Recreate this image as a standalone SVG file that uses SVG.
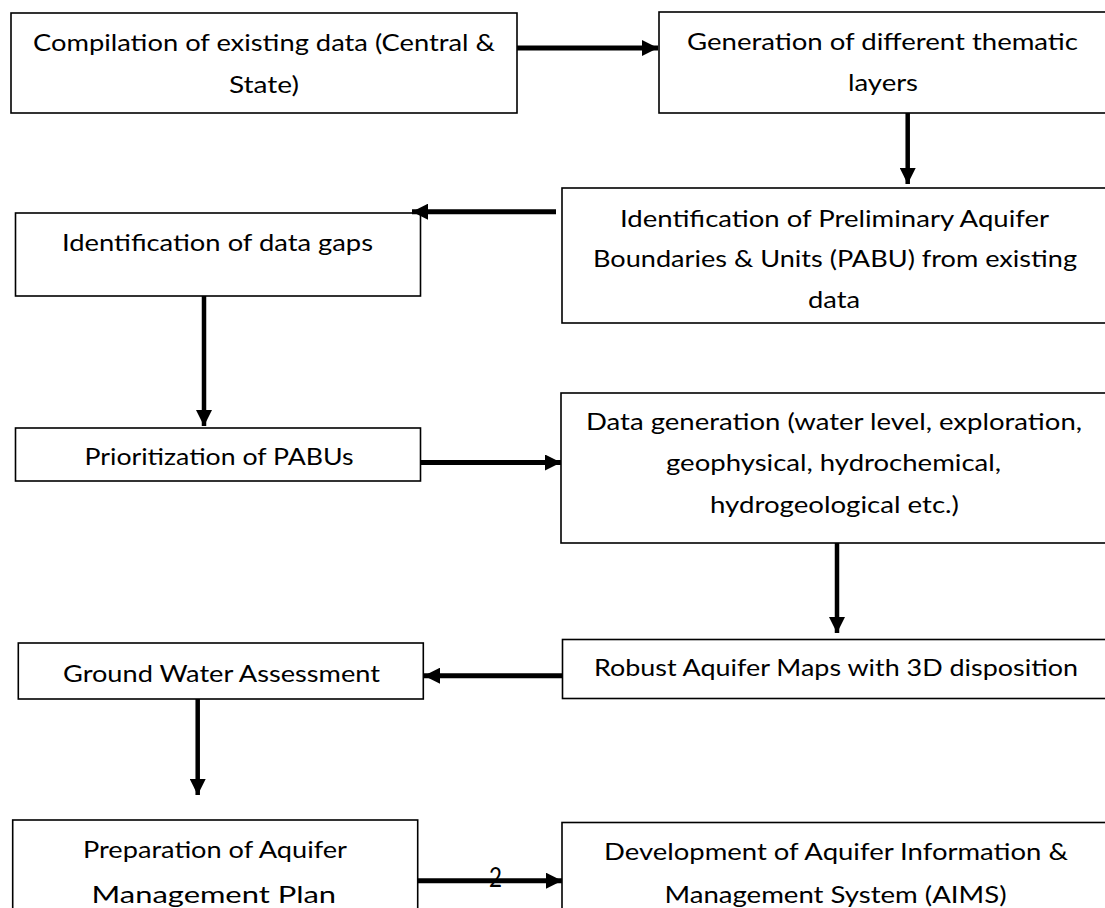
<svg xmlns="http://www.w3.org/2000/svg" width="1105" height="908" viewBox="0 0 1105 908">
<style>
.box{fill:#fff;stroke:#000;stroke-width:1.6}
.t{font-family:Lato,"Open Sans","Liberation Sans",sans-serif;font-size:24px;fill:#000}
.c{stroke:#000;fill:none}
.h{stroke-width:5}
.v{stroke-width:4.5}
</style>
<defs>
<marker id="ah" viewBox="0 0 16 16" refX="16" refY="8" markerWidth="16" markerHeight="16" markerUnits="userSpaceOnUse" orient="auto">
<path d="M0,0 L16,8 L0,16 Z" fill="#000"/>
</marker>
</defs>
<rect width="1105" height="908" fill="#fff"/>
<g id="n1"><rect class="box" x="11" y="13" width="506" height="100"/>
<text class="t" x="33" y="51" textLength="462" lengthAdjust="spacingAndGlyphs">Compilation of existing data (Central &amp;</text>
<text class="t" x="229" y="93" textLength="70" lengthAdjust="spacingAndGlyphs">State)</text></g>
<g id="n2"><rect class="box" x="659" y="12" width="460" height="101"/>
<text class="t" x="687" y="50" textLength="391" lengthAdjust="spacingAndGlyphs">Generation of different thematic</text>
<text class="t" x="848" y="91" textLength="70" lengthAdjust="spacingAndGlyphs">layers</text></g>
<g id="n3"><rect class="box" x="562" y="188" width="560" height="135"/>
<text class="t" x="620" y="227" textLength="429" lengthAdjust="spacingAndGlyphs">Identification of Preliminary Aquifer</text>
<text class="t" x="593" y="267" textLength="484" lengthAdjust="spacingAndGlyphs">Boundaries &amp; Units (PABU) from existing</text>
<text class="t" x="808" y="308" textLength="52" lengthAdjust="spacingAndGlyphs">data</text></g>
<g id="n4"><rect class="box" x="15.5" y="213" width="405" height="83"/>
<text class="t" x="62" y="251" textLength="311" lengthAdjust="spacingAndGlyphs">Identification of data gaps</text></g>
<g id="n5"><rect class="box" x="15.5" y="428" width="405" height="53"/>
<text class="t" x="84.5" y="465" textLength="269" lengthAdjust="spacingAndGlyphs">Prioritization of PABUs</text></g>
<g id="n6"><rect class="box" x="561" y="393" width="560" height="150"/>
<text class="t" x="586" y="430" textLength="496" lengthAdjust="spacingAndGlyphs">Data generation (water level, exploration,</text>
<text class="t" x="666" y="471" textLength="335" lengthAdjust="spacingAndGlyphs">geophysical, hydrochemical,</text>
<text class="t" x="710" y="513" textLength="249" lengthAdjust="spacingAndGlyphs">hydrogeological etc.)</text></g>
<g id="n7"><rect class="box" x="562.5" y="639.5" width="560" height="59"/>
<text class="t" x="594" y="676" textLength="484" lengthAdjust="spacingAndGlyphs">Robust Aquifer Maps with 3D disposition</text></g>
<g id="n8"><rect class="box" x="18.3" y="643" width="405" height="56"/>
<text class="t" x="63" y="682" textLength="317" lengthAdjust="spacingAndGlyphs">Ground Water Assessment</text></g>
<g id="n9"><rect class="box" x="12.7" y="820" width="405" height="100"/>
<text class="t" x="83" y="858" textLength="264" lengthAdjust="spacingAndGlyphs">Preparation of Aquifer</text>
<text class="t" x="91.6" y="903" textLength="244.5" lengthAdjust="spacingAndGlyphs">Management Plan</text></g>
<g id="n10"><rect class="box" x="562" y="822.5" width="560" height="100"/>
<text class="t" x="604" y="860" textLength="464" lengthAdjust="spacingAndGlyphs">Development of Aquifer Information &amp;</text>
<text class="t" x="664.5" y="903" textLength="342" lengthAdjust="spacingAndGlyphs">Management System (AIMS)</text></g>
<g id="connectors">
<line class="c h" x1="517" y1="48" x2="658" y2="48" marker-end="url(#ah)"/>
<line class="c v" x1="907.7" y1="113" x2="907.7" y2="184" marker-end="url(#ah)"/>
<line class="c h" x1="556" y1="211.7" x2="412" y2="211.7" marker-end="url(#ah)"/>
<line class="c v" x1="204" y1="296" x2="204" y2="426" marker-end="url(#ah)"/>
<line class="c h" x1="421" y1="462.5" x2="561" y2="462.5" marker-end="url(#ah)"/>
<line class="c v" x1="837" y1="543" x2="837" y2="633" marker-end="url(#ah)"/>
<line class="c h" x1="562.5" y1="675.7" x2="424" y2="675.7" marker-end="url(#ah)"/>
<line class="c v" x1="197.7" y1="699" x2="197.7" y2="795" marker-end="url(#ah)"/>
<line class="c h" x1="418" y1="880.7" x2="562" y2="880.7" marker-end="url(#ah)"/>
</g>
<text class="t" x="489" y="887" style="font-size:26px" textLength="13" lengthAdjust="spacingAndGlyphs">2</text>
</svg>
